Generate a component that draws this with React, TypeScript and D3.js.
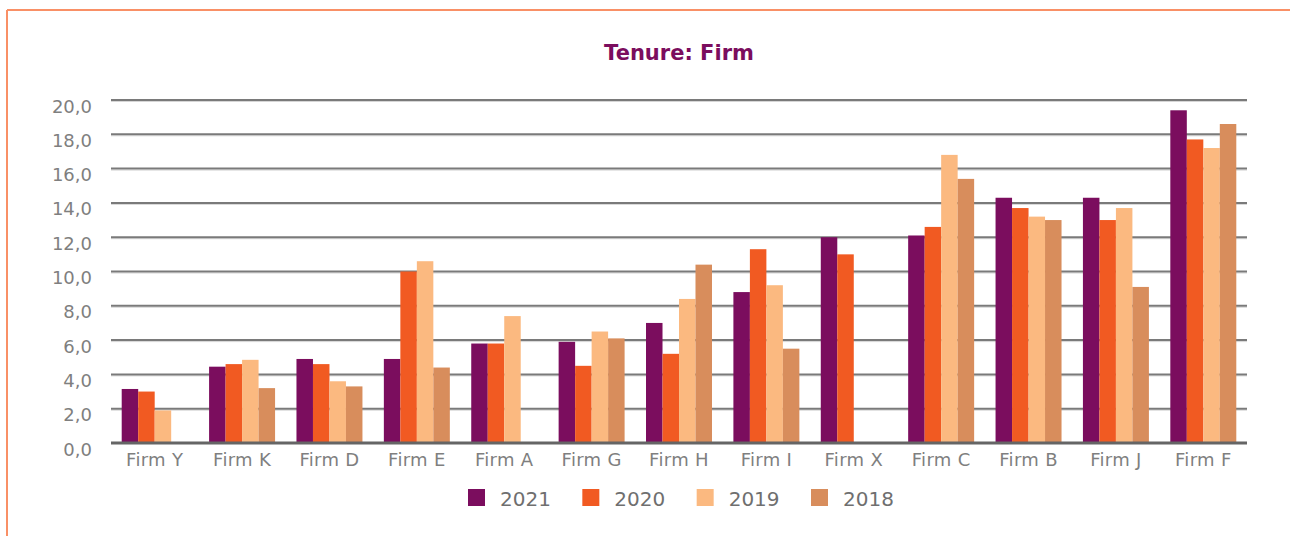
import React from "react"
import * as d3 from "d3"

// tenure by firm, four years per firm
const firms = ["Firm Y", "Firm K", "Firm D", "Firm E", "Firm A", "Firm G", "Firm H", "Firm I", "Firm X", "Firm C", "Firm B", "Firm J", "Firm F"]
const years = ["2021", "2020", "2019", "2018"]
const v2021 = [3.15, 4.45, 4.9, 4.9, 5.8, 5.9, 7.0, 8.8, 12.0, 12.1, 14.3, 14.3, 19.4]
const v2020 = [3.0, 4.6, 4.6, 10.0, 5.8, 4.5, 5.2, 11.3, 11.0, 12.6, 13.7, 13.0, 17.7]
const v2019 = [1.9, 4.85, 3.6, 10.6, 7.4, 6.5, 8.4, 9.2, null, 16.8, 13.2, 13.7, 17.2]
const v2018 = [null, 3.2, 3.3, 4.4, null, 6.1, 10.4, 5.5, null, 15.4, 13.0, 9.1, 18.6]
const yTicks = [0, 2, 4, 6, 8, 10, 12, 14, 16, 18, 20]
const colors = ["#7b0d5e", "#f15a22", "#fbb980", "#d88d5c"]

const series = [v2021, v2020, v2019, v2018]

export default function App() {
  const W = 1290, H = 536
  const left = 111, right = 1247, top = 100, bottom = 443

  const x = d3.scaleBand().domain(firms).range([left, right]).paddingInner(0.245).paddingOuter(0.1225)
  const xs = d3.scaleBand().domain(years).range([0, x.bandwidth()])
  const y = d3.scaleLinear().domain([0, 20]).range([bottom, top])
  const color = d3.scaleOrdinal<string, string>().domain(years).range(colors)
  const legendX = d3.scalePoint().domain(years).range([468, 811])
  const fmt = (d: number) => d3.format(".1f")(d).replace(".", ",")
  const font = "'DejaVu Sans', sans-serif"

  return (
    <svg width={W} height={H} style={{ position: "absolute", left: 0, top: 0, background: "#fff" }}>
      {/* frame */}
      <line x1={7} x2={W} y1={10} y2={10} stroke="#f99066" strokeWidth={2} />
      <line x1={7} x2={7} y1={10} y2={H} stroke="#f99066" strokeWidth={2} />

      <text x={679} y={60} textAnchor="middle" fontFamily={font} fontWeight="bold" fontSize={21} fill="#7b0d5e">
        Tenure: Firm
      </text>

      {yTicks.map(t => (
        <g key={t}>
          {t > 0 && <line x1={left} x2={right} y1={y(t) + 1.5} y2={y(t) + 1.5} stroke="#d6d6d6" strokeWidth={1} />}
          {t > 0 && <line x1={left} x2={right} y1={y(t)} y2={y(t)} stroke="#7a7a7a" strokeWidth={2} />}
          <text x={92} y={y(t) + 12.5} textAnchor="end" fontFamily={font} fontSize={18} fill="#7f7f7f">
            {fmt(t)}
          </text>
        </g>
      ))}

      {firms.map((f, i) => (
        <g key={f} transform={`translate(${x(f)},0)`}>
          {series.map((s, j) => {
            const v = s[i]
            if (v == null) return null
            return (
              <rect key={j} x={xs(years[j])} width={xs.bandwidth()} y={y(v)} height={y(0) - y(v)} fill={color(years[j])} />
            )
          })}
          <text x={x.bandwidth() / 2} y={466} textAnchor="middle" fontFamily={font} fontSize={18} letterSpacing={0.3} fill="#7f7f7f">
            {f}
          </text>
        </g>
      ))}

      <line x1={left} x2={right} y1={bottom} y2={bottom} stroke="#656565" strokeWidth={3} />

      {years.map(yr => (
        <g key={yr} transform={`translate(${legendX(yr)},489)`}>
          <rect width={17} height={17} fill={color(yr)} />
          <text x={32} y={17} fontFamily={font} fontSize={20} fill="#6f6f6f">
            {yr}
          </text>
        </g>
      ))}
    </svg>
  )
}
